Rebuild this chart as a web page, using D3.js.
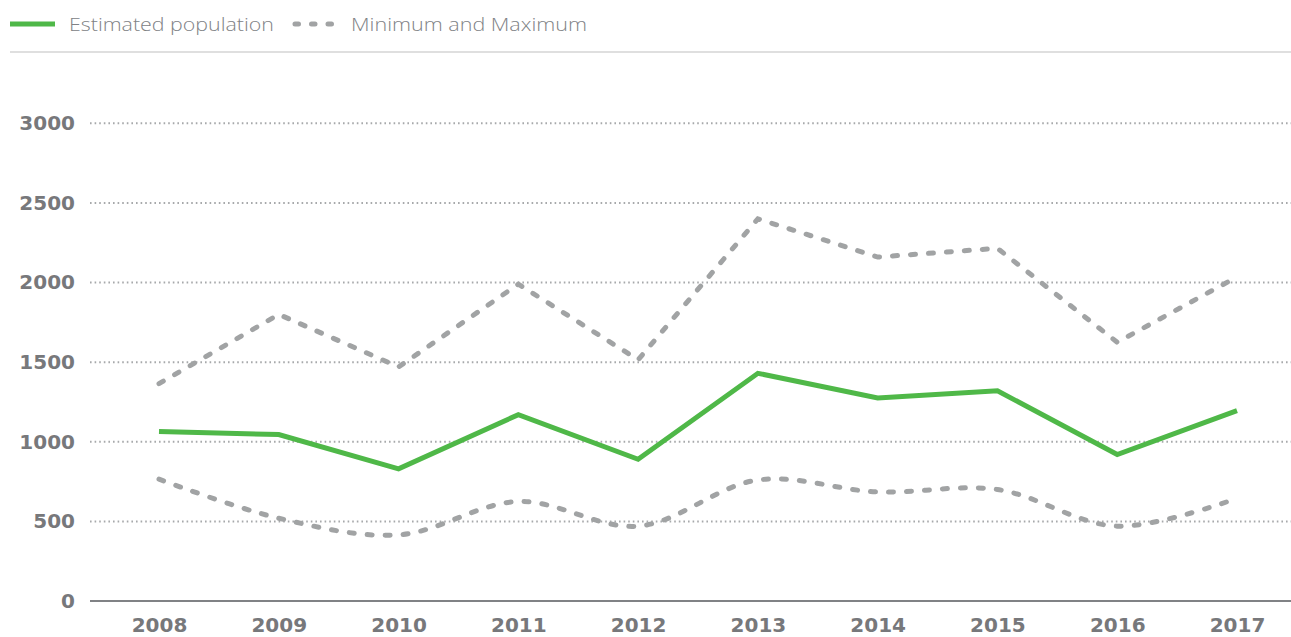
<!DOCTYPE html>
<html>
<head>
<meta charset="utf-8">
<script src="https://cdn.jsdelivr.net/npm/d3@7/dist/d3.min.js"></script>
<style>
  html, body { margin: 0; padding: 0; background: #fff; }
  svg { display: block; }
</style>
</head>
<body>
<svg id="chart" width="1291" height="637"></svg>
<script>
// Population estimates per year, with the lower and upper bounds
const years = ["2008", "2009", "2010", "2011", "2012", "2013", "2014", "2015", "2016", "2017"];
const estimated = [1065, 1045, 830, 1170, 890, 1430, 1275, 1320, 920, 1195];
const maximum = [1365, 1800, 1470, 1990, 1515, 2400, 2160, 2215, 1625, 2035];
const minimum = [765, 520, 415, 625, 470, 760, 685, 700, 470, 645];
const yTicks = [0, 500, 1000, 1500, 2000, 2500, 3000];
const legendLabels = ["Estimated population", "Minimum and Maximum"];

const W = 1291, H = 637;
const green = "#4fb848";
const dashGrey = "#a1a3a4";
const textGrey = "#77787b";

const svg = d3.select("#chart");

const x = d3.scalePoint().domain(years).range([159, 1237]);
const y = d3.scaleLinear().domain([0, 3000]).range([601, 123.3]);

// Legend
const legend = svg.append("g");
legend.append("line")
  .attr("x1", 10).attr("x2", 55).attr("y1", 24).attr("y2", 24)
  .attr("stroke", green).attr("stroke-width", 5);
legend.append("text")
  .attr("x", 69).attr("y", 31)
  .attr("font-family", "'Open Sans', sans-serif").attr("font-weight", 300)
  .attr("font-size", 19).attr("fill", "#808285")
  .attr("textLength", 205).attr("lengthAdjust", "spacingAndGlyphs")
  .text(legendLabels[0]);
legend.append("line")
  .attr("x1", 295).attr("x2", 338).attr("y1", 24).attr("y2", 24)
  .attr("stroke", dashGrey).attr("stroke-width", 5)
  .attr("stroke-linecap", "round").attr("stroke-dasharray", "3.5,13");
legend.append("text")
  .attr("x", 351).attr("y", 31)
  .attr("font-family", "'Open Sans', sans-serif").attr("font-weight", 300)
  .attr("font-size", 19).attr("fill", "#808285")
  .attr("textLength", 236).attr("lengthAdjust", "spacingAndGlyphs")
  .text(legendLabels[1]);

// Separator under the legend
svg.append("line")
  .attr("x1", 10).attr("x2", W).attr("y1", 52).attr("y2", 52)
  .attr("stroke", "#d4d4d4").attr("stroke-width", 1.5);

// Dotted gridlines
svg.append("g")
  .selectAll("line")
  .data(yTicks.filter(d => d > 0))
  .join("line")
  .attr("x1", 90).attr("x2", W)
  .attr("y1", d => y(d)).attr("y2", d => y(d))
  .attr("stroke", "#a7a9ab").attr("stroke-width", 2)
  .attr("stroke-dasharray", "1.6,3");

// Baseline
svg.append("line")
  .attr("x1", 90).attr("x2", W)
  .attr("y1", y(0)).attr("y2", y(0))
  .attr("stroke", "#808285").attr("stroke-width", 2);

// Y axis labels
const yAxis = d3.axisLeft(y).tickValues(yTicks).tickFormat(d3.format("d")).tickSize(0).tickPadding(0);
const gy = svg.append("g").attr("transform", "translate(75,0)").call(yAxis);
gy.select(".domain").remove();
gy.selectAll("text")
  .attr("font-family", "'DejaVu Sans', sans-serif").attr("font-weight", "bold")
  .attr("font-size", 20).attr("fill", textGrey);

// X axis labels
const xAxis = d3.axisBottom(x).tickSize(0).tickPadding(0);
const gx = svg.append("g").attr("transform", "translate(0,618)").call(xAxis);
gx.select(".domain").remove();
gx.selectAll("text")
  .attr("dy", "0.71em")
  .attr("font-family", "'DejaVu Sans', sans-serif").attr("font-weight", "bold")
  .attr("font-size", 20).attr("fill", textGrey);

// Series
const linearLine = d3.line().x((d, i) => x(years[i])).y(d => y(d));
const smoothLine = d3.line().x((d, i) => x(years[i])).y(d => y(d)).curve(d3.curveCatmullRom.alpha(0.5));

svg.append("path").datum(maximum)
  .attr("d", linearLine)
  .attr("fill", "none").attr("stroke", dashGrey).attr("stroke-width", 5)
  .attr("stroke-linecap", "round").attr("stroke-dasharray", "5,13");

svg.append("path").datum(minimum)
  .attr("d", smoothLine)
  .attr("fill", "none").attr("stroke", dashGrey).attr("stroke-width", 5)
  .attr("stroke-linecap", "round").attr("stroke-dasharray", "5,13");

svg.append("path").datum(estimated)
  .attr("d", linearLine)
  .attr("fill", "none").attr("stroke", green).attr("stroke-width", 5);
</script>
</body>
</html>
